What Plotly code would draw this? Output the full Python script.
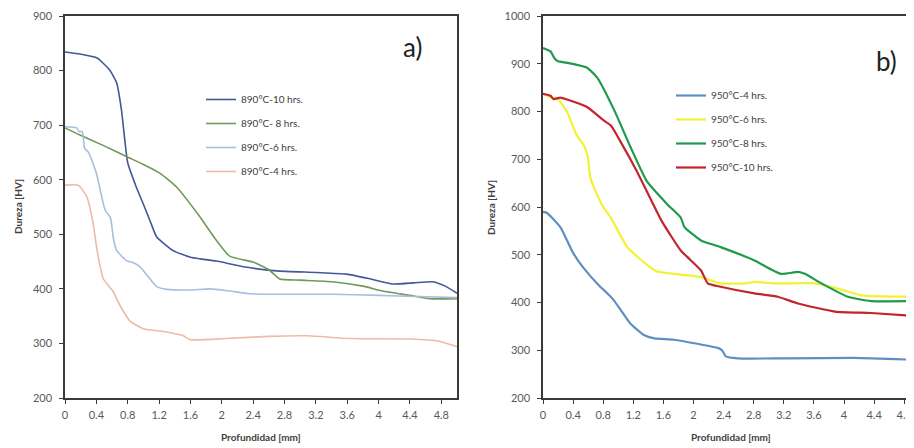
import plotly.graph_objects as go

# ---------------- data: panel a) 890 °C ----------------
a_names = ["890°C-10 hrs.", "890°C- 8 hrs.", "890°C-6 hrs.", "890°C-4 hrs."]
a_colors = ["#44589a", "#6f9a5a", "#a9bede", "#ecbca6"]

a10_x = [0, 0.2, 0.41, 0.57, 0.66, 0.72, 0.8, 0.9, 1.0, 1.1, 1.17, 1.38, 1.6, 1.72, 1.93, 2.3, 2.7, 3.2, 3.59, 3.9, 4.18, 4.45, 4.69, 4.85, 5.0]
a10_y = [834, 830, 823, 801, 777, 728, 631, 590, 555, 519, 495, 470, 458, 455, 451, 440, 433, 430, 427, 418, 409, 411, 413, 405, 392]

a8_x = [0, 0.19, 0.5, 0.79, 1.0, 1.21, 1.42, 1.72, 1.9, 2.1, 2.4, 2.6, 2.74, 3.0, 3.41, 3.8, 4.05, 4.4, 4.65, 5.0]
a8_y = [695, 682, 662, 642, 628, 612, 587, 532, 495, 460, 449, 435, 418, 416, 413, 405, 396, 388, 382, 382]

a6_x = [0, 0.15, 0.18, 0.22, 0.25, 0.3, 0.4, 0.51, 0.58, 0.62, 0.66, 0.79, 0.85, 0.96, 1.17, 1.3, 1.6, 1.85, 2.1, 2.36, 3.0, 3.4, 4.0, 4.5, 5.0]
a6_y = [697, 695, 688, 688, 658, 650, 612, 545, 530, 490, 470, 451, 449, 440, 404, 399, 398, 400, 396, 391, 390, 390, 388, 386, 384]

a4_x = [0, 0.17, 0.28, 0.36, 0.41, 0.49, 0.61, 0.7, 0.83, 1.0, 1.3, 1.51, 1.59, 2.06, 2.6, 3.08, 3.63, 4.4, 4.77, 5.0]
a4_y = [590, 590, 568, 519, 470, 418, 396, 370, 341, 327, 321, 314, 307, 309, 313, 314, 309, 308, 304, 294]

# ---------------- data: panel b) 950 °C ----------------
b_names = ["950°C-4 hrs.", "950°C-6 hrs.", "950°C-8 hrs.", "950°C-10 hrs."]
b_colors = ["#5f8fc2", "#f2f232", "#1f9a4c", "#c0262c"]

b4_x = [0, 0.05, 0.23, 0.4, 0.53, 0.76, 0.85, 0.94, 1.16, 1.34, 1.48, 1.74, 2.1, 2.32, 2.38, 2.43, 2.59, 3.2, 4.14, 4.94]
b4_y = [590, 588, 558, 504, 474, 433, 420, 405, 356, 332, 325, 322, 312, 305, 300, 287, 283, 283, 284, 280]

b6_x = [0, 0.1, 0.2, 0.32, 0.45, 0.54, 0.59, 0.63, 0.68, 0.8, 0.9, 1.12, 1.39, 1.52, 1.74, 2.1, 2.36, 2.68, 2.81, 3.08, 3.61, 3.92, 4.23, 4.94]
b6_y = [837, 830, 826, 799, 750, 730, 709, 661, 640, 600, 578, 516, 478, 465, 460, 453, 440, 440, 443, 440, 440, 429, 415, 412]

b8_x = [0, 0.1, 0.15, 0.2, 0.32, 0.58, 0.72, 0.94, 1.17, 1.38, 1.65, 1.83, 1.88, 2.1, 2.36, 2.81, 3.16, 3.39, 3.48, 3.7, 4.05, 4.36, 4.94]
b8_y = [933, 926, 912, 905, 902, 892, 871, 805, 723, 654, 606, 578, 558, 530, 516, 488, 460, 464, 460, 440, 412, 403, 403]

b10_x = [0, 0.1, 0.14, 0.23, 0.36, 0.59, 0.81, 0.9, 1.03, 1.25, 1.42, 1.58, 1.83, 1.92, 2.1, 2.19, 2.36, 2.81, 3.12, 3.39, 3.88, 4.36, 4.94]
b10_y = [837, 833, 826, 829, 823, 809, 781, 771, 737, 674, 620, 570, 509, 495, 467, 440, 433, 419, 412, 398, 381, 378, 372]

x_ticks = [0, 0.4, 0.8, 1.2, 1.6, 2, 2.4, 2.8, 3.2, 3.6, 4, 4.4, 4.8]
x_ticktext = ["0", "0.4", "0.8", "1.2", "1.6", "2", "2.4", "2.8", "3.2", "3.6", "4", "4.4", "4.8"]

# page is offset by the default 8px body margin
OFF = 8
W, H = 914 - OFF, 448 - OFF
FONT = "Lato, 'Open Sans', sans-serif"

fig = go.Figure()

a_series = [(a10_x, a10_y), (a8_x, a8_y), (a6_x, a6_y), (a4_x, a4_y)]
for i, ((xs, ys), nm, c) in enumerate(zip(a_series, a_names, a_colors)):
    fig.add_trace(go.Scatter(x=xs, y=ys, mode="lines", name=nm, xaxis="x", yaxis="y",
                             line=dict(color=c, width=1.6, shape="spline", smoothing=0.5),
                             legend="legend", legendgroup="a%d" % i))

b_series = [(b4_x, b4_y), (b6_x, b6_y), (b8_x, b8_y), (b10_x, b10_y)]
for i, ((xs, ys), nm, c) in enumerate(zip(b_series, b_names, b_colors)):
    fig.add_trace(go.Scatter(x=xs, y=ys, mode="lines", name=nm, xaxis="x2", yaxis="y2",
                             line=dict(color=c, width=2.2, shape="spline", smoothing=0.5),
                             legend="legend2", legendgroup="b%d" % i))

def px_x(p):
    return (p - OFF) / W

def px_y(p):
    return 1 - (p - OFF) / H

ax_common = dict(showline=True, linecolor="#3a3a3a", linewidth=1.5, ticks="outside",
                 ticklen=4, tickcolor="#3a3a3a", showgrid=False, zeroline=False,
                 tickfont=dict(family=FONT, size=11, color="#595959"), automargin=False)

fig.update_layout(
    width=W, height=H,
    margin=dict(l=0, r=0, t=0, b=0),
    paper_bgcolor="white", plot_bgcolor="white",
    font=dict(family=FONT),
    xaxis=dict(domain=[px_x(65), px_x(457)], range=[0, 5], tickvals=x_ticks, ticktext=x_ticktext,
               mirror=True, anchor="y", ticklabelstandoff=2, **ax_common),
    yaxis=dict(domain=[px_y(398), px_y(16)], range=[200, 900], dtick=100, mirror=True,
               anchor="x", ticklabelstandoff=5, **ax_common),
    xaxis2=dict(domain=[px_x(543), 1.0], range=[0, 4.93], tickvals=x_ticks, ticktext=x_ticktext,
                mirror=True, anchor="y2", ticklabelstandoff=2, **ax_common),
    yaxis2=dict(domain=[px_y(398), px_y(16)], range=[200, 1000], dtick=100, mirror=False,
                anchor="x2", ticklabelstandoff=5, **ax_common),
    legend=dict(x=px_x(201), y=px_y(85), xanchor="left", yanchor="top", bgcolor="rgba(0,0,0,0)",
                font=dict(family=FONT, size=10, color="#404040"), tracegroupgap=5,
                itemwidth=30),
    legend2=dict(x=px_x(671), y=px_y(81), xanchor="left", yanchor="top", bgcolor="rgba(0,0,0,0)",
                 font=dict(family=FONT, size=10, color="#404040"), tracegroupgap=5,
                 itemwidth=30),
    showlegend=True,
)

annots = [
    dict(text="a)", x=px_x(412), y=px_y(47), font=dict(size=26, color="#222222")),
    dict(text="b)", x=px_x(886), y=px_y(61), font=dict(size=26, color="#222222")),
    dict(text="<b>Dureza [HV]</b>", x=px_x(18), y=px_y(207), textangle=-90,
         font=dict(size=10, color="#404040")),
    dict(text="<b>Dureza [HV]</b>", x=px_x(491), y=px_y(207), textangle=-90,
         font=dict(size=10, color="#404040")),
    dict(text="<b>Profundidad [mm]</b>", x=px_x(261), y=px_y(437),
         font=dict(size=10, color="#404040")),
    dict(text="<b>Profundidad [mm]</b>", x=px_x(731), y=px_y(437),
         font=dict(size=10, color="#404040")),
]
for a in annots:
    fig.add_annotation(xref="paper", yref="paper", showarrow=False, xanchor="center",
                       yanchor="middle", **{k: v for k, v in a.items()})

fig.write_html("out.html")
